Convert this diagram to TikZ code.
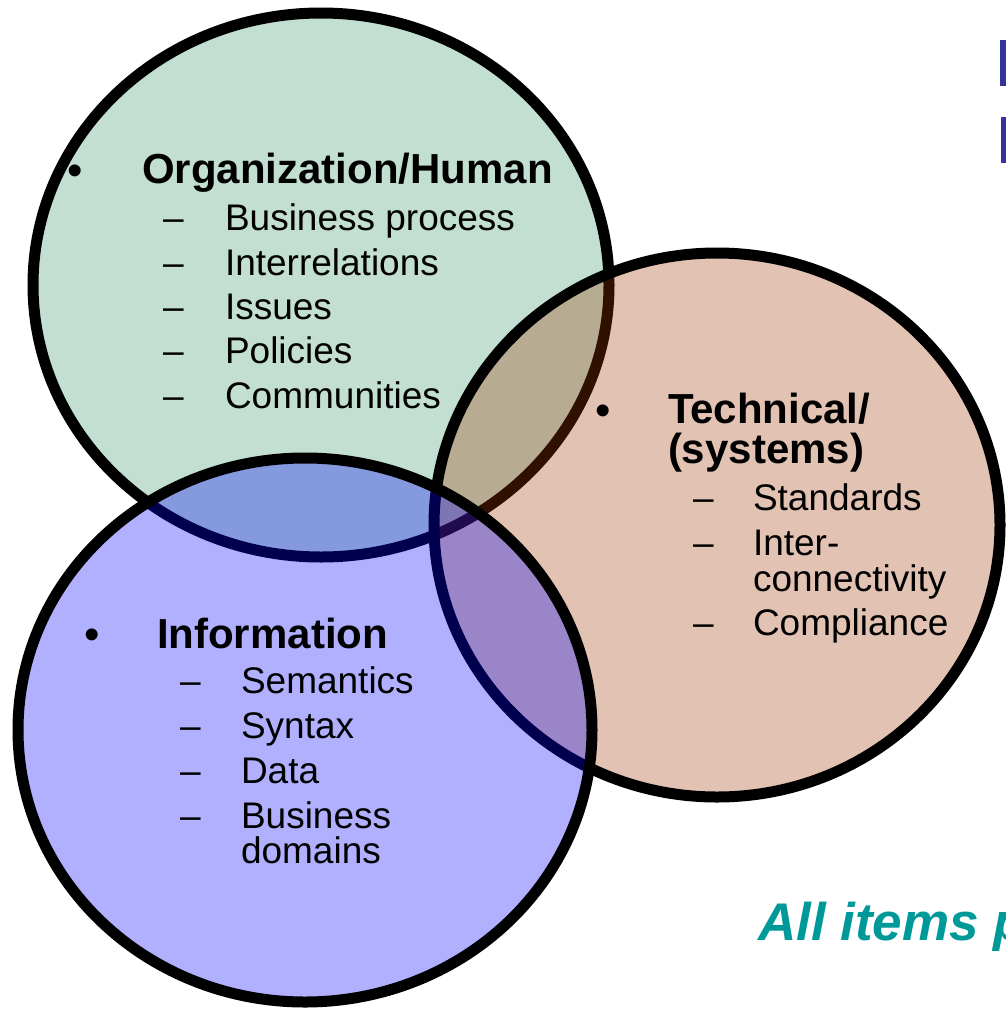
\documentclass[tikz,border=0pt]{standalone}
\usepackage{fontspec}
\setmainfont{Liberation Sans}
\definecolor{greenf}{RGB}{194,223,209}
\definecolor{orangef}{RGB}{160,53,0}
\definecolor{bluef}{RGB}{0,0,255}
\definecolor{teal2}{RGB}{0,153,153}
\definecolor{titleblue}{RGB}{51,51,153}
\begin{document}
\begin{tikzpicture}[x=1pt,y=-1pt,
  lbl/.style={anchor=base west, inner sep=0pt, outer sep=0pt},
  head/.style={lbl, font=\fontsize{42}{42}\selectfont\bfseries},
  item/.style={lbl, font=\fontsize{37}{37}\selectfont},
  dashmark/.style={lbl, font=\fontsize{37}{37}\selectfont},
  bulletmark/.style={anchor=center, inner sep=0pt, outer sep=0pt, font=\fontsize{44}{44}\selectfont},
  ring/.style={line width=11pt, draw=black}]
\clip (0,0) rectangle (1006,1009);
\fill[white] (0,0) rectangle (1006,1009);
% circles
\path[ring, fill=greenf] (321,285) ellipse [x radius=288, y radius=272];
\path[ring, fill=orangef, fill opacity=0.3] (717,525) ellipse [x radius=283, y radius=272];
\path[ring, fill=bluef, fill opacity=0.31] (305,730) ellipse [x radius=287, y radius=272];
% title stems (cut off)
\fill[titleblue] (1000,40) rectangle (1006,86);
\fill[titleblue] (1001,117) rectangle (1006,163);
% Organization/Human
\node[bulletmark] (ob) at (75,175) {•};
\node[head] (oh) at (142,183) {Organization/Human};
\node[dashmark] (od1) at (163,230) {–};
\node[item] (oi1) at (225,230) {Business process};
\node[dashmark] (od2) at (163,275) {–};
\node[item] (oi2) at (225,275) {Interrelations};
\node[dashmark] (od3) at (163,319) {–};
\node[item] (oi3) at (225,319) {Issues};
\node[dashmark] (od4) at (163,363) {–};
\node[item] (oi4) at (225,363) {Policies};
\node[dashmark] (od5) at (163,408) {–};
\node[item] (oi5) at (225,408) {Communities};
% Technical
\node[bulletmark] (tb) at (603,415) {•};
\node[head] (th1) at (668,423) {Technical/};
\node[head] (th2) at (668,463) {(systems)};
\node[dashmark] (td1) at (693,510) {–};
\node[item] (ti1) at (753,510) {Standards};
\node[dashmark] (td2) at (693,555) {–};
\node[item] (ti2a) at (753,555) {Inter-};
\node[item] (ti2b) at (753,591) {connectivity};
\node[dashmark] (td3) at (693,635) {–};
\node[item] (ti3) at (753,635) {Compliance};
% Information
\node[bulletmark] (ib) at (92,639) {•};
\node[head] (ih) at (157,648) {Information};
\node[dashmark] (id1) at (180,693) {–};
\node[item] (ii1) at (241,693) {Semantics};
\node[dashmark] (id2) at (180,738) {–};
\node[item] (ii2) at (241,738) {Syntax};
\node[dashmark] (id3) at (180,783) {–};
\node[item] (ii3) at (241,783) {Data};
\node[dashmark] (id4) at (180,828) {–};
\node[item] (ii4a) at (241,828) {Business};
\node[item] (ii4b) at (241,863) {domains};
% footer
\node[lbl, text=teal2, font=\fontsize{53}{53}\selectfont\bfseries\itshape] (foot) at (758,940) {All items p};
\end{tikzpicture}
\end{document}
